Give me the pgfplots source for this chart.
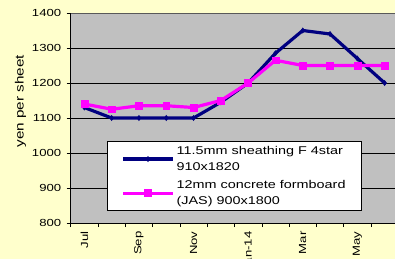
\documentclass[border=0pt]{standalone}
\usepackage{pgfplots}
\pgfplotsset{compat=1.18}
\usepackage{fontspec}
\setmainfont[FakeStretch=1.28]{Liberation Sans}
\definecolor{bgyel}{HTML}{FFFFCC}
\definecolor{plotgray}{HTML}{C0C0C0}
\definecolor{navy}{HTML}{000080}
\definecolor{mag}{HTML}{FF00FF}
\begin{document}
\begin{tikzpicture}
\path[use as bounding box, fill=bgyel] (0bp,0bp) rectangle (395bp,259bp);
\clip (0bp,0bp) rectangle (395bp,259bp);
\begin{axis}[
  at={(70.7bp,36bp)}, anchor=south west,
  scale only axis, width=327.6bp, height=210bp,
  xmin=-0.5, xmax=11.5, ymin=800, ymax=1400,
  ytick={800,900,...,1400},
  xtick={0,2,4,6,8,10},
  xticklabels={Jul,Sep,Nov,Jan-14,Mar,May},
  minor xtick={-0.5,0.5,...,11.5},
  major x tick style={draw=none},
  minor x tick style={black, line width=0.6pt},
  minor tick length=4bp,
  tick align=outside,
  y tick style={black, line width=0.6pt},
  major tick length=4bp,
  xticklabel style={rotate=90, anchor=east, font=\fontsize{10.3}{12}\selectfont, xshift=-1bp},
  yticklabel style={font=\fontsize{10.3}{12}\selectfont, xshift=-2bp},
  /pgf/number format/assume math mode=true,
  /pgf/number format/1000 sep={},
  ylabel={yen per sheet},
  ylabel style={font=\fontsize{12}{14}\selectfont, at={(ticklabel cs:0.58)}, yshift=-1bp},
  ymajorgrids, grid style={black, line width=0.5pt},
  axis background/.style={fill=plotgray},
  axis x line*=bottom, axis y line*=left,
  axis line style={black, line width=0.7pt},
  clip=false,
  legend style={at={(0.111,0.057)}, anchor=south west, draw=black, fill=white,
    font=\fontsize{11.3}{15.5}\selectfont, cells={align=left, anchor=west},
    row sep=5bp, inner xsep=14bp, inner ysep=3bp, line width=0.7pt},
  legend cell align=left,
  legend image code/.code={\draw[#1, mark repeat=2, mark phase=2] plot coordinates {(0bp,0bp) (25bp,0bp) (50bp,0bp)};},
]
\draw[gray!70!black, line width=0.7pt] (axis cs:-0.5,1400) -- (axis cs:11.5,1400);
\addplot[navy, line width=3.2pt, mark=diamond*, mark size=2.6pt, mark options={line width=0.5pt}] coordinates {
(0,1130) (1,1100) (2,1100) (3,1100) (4,1100) (5,1145) (6,1200) (7,1285) (8,1350) (9,1340) (10,1270) (11,1200)};
\addlegendentry{11.5mm sheathing F 4star\\910x1820}
\addplot[mag, line width=3.2pt, mark=square*, mark size=3.5pt, mark options={line width=0.5pt}] coordinates {
(0,1140) (1,1125) (2,1135) (3,1135) (4,1130) (5,1150) (6,1200) (7,1265) (8,1250) (9,1250) (10,1250) (11,1250)};
\addlegendentry{12mm concrete formboard\\(JAS) 900x1800}
\end{axis}
\end{tikzpicture}
\end{document}
